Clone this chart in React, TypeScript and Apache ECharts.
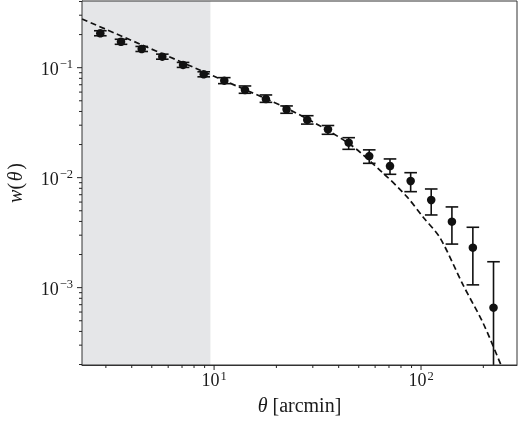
import React, { useEffect, useRef } from "react";
import * as echarts from "echarts";

// Measured angular bins (arcmin) and correlation values
const thetaArcmin = [2.82, 3.55, 4.47, 5.62, 7.08, 8.91, 11.2, 14.1, 17.8, 22.4, 28.2, 35.5, 44.7, 56.2, 70.8, 89.1, 112, 141, 178, 224];
const wTheta = [0.2056, 0.172, 0.148, 0.126, 0.106, 0.0871, 0.0762, 0.0627, 0.0519, 0.0418, 0.0335, 0.0275, 0.0208, 0.0157, 0.01276, 0.00933, 0.00627, 0.00398, 0.00231, 0.000658];
const wUpper = [0.2167, 0.1813, 0.156, 0.1328, 0.1117, 0.0918, 0.0812, 0.0682, 0.0565, 0.0449, 0.0366, 0.0298, 0.0231, 0.0179, 0.0148, 0.0111, 0.00789, 0.00542, 0.00354, 0.00172];
const wLower = [0.1951, 0.1632, 0.1404, 0.1195, 0.1006, 0.0826, 0.0716, 0.0585, 0.0484, 0.0385, 0.0307, 0.0248, 0.0181, 0.0135, 0.01073, 0.00746, 0.00458, 0.00249, 0.00106, 0.00001];

// Model curve (dashed)
const modelTheta = [2.3, 10.45, 23.28, 44.4, 65.5, 85.6, 102.2, 123.6, 159.6, 199.3, 243.5, 257.4];
const modelW = [0.2772, 0.0806, 0.04125, 0.02068, 0.01103, 0.00668, 0.00439, 0.00283, 0.001058, 0.000478, 0.000198, 0.000154];

// Axis ranges and ticks
const xRange = [2.3, 290.9];
const yRange = [0.000198, 0.404];
const shadeEnd = 9.6;
const xMajorTicks = [10, 100];
const xMinorTicks = [3, 4, 5, 6, 7, 8, 9, 20, 30, 40, 50, 60, 70, 80, 90, 200];
const yMajorTicks = [0.001, 0.01, 0.1];
const yMinorTicks = [0.0002, 0.0003, 0.0004, 0.0005, 0.0006, 0.0007, 0.0008, 0.0009, 0.002, 0.003, 0.004, 0.005, 0.006, 0.007, 0.008, 0.009, 0.02, 0.03, 0.04, 0.05, 0.06, 0.07, 0.08, 0.09, 0.2, 0.3, 0.4];

const FONT = "Liberation Serif";
const INK = "#1a1a1a";

function powLabel(v: number): string {
  const l = Math.log10(v);
  const e = Math.round(l);
  if (Math.abs(l - e) > 1e-6) return "";
  return `{b|10}{s|${e < 0 ? "\u2212" : ""}${Math.abs(e)}}`;
}

const labelRich = {
  b: { fontFamily: FONT, fontSize: 18, color: INK, lineHeight: 20, verticalAlign: "bottom" },
  s: { fontFamily: FONT, fontSize: 12.5, color: INK, lineHeight: 14, verticalAlign: "top", padding: [0, 0, 0, 1] },
};

export default function App() {
  const ref = useRef<HTMLDivElement>(null);
  useEffect(() => {
    document.body.style.margin = "0";
    if (!ref.current) return;
    const chart = echarts.init(ref.current, undefined, { renderer: "svg" });

    const points = thetaArcmin.map((x, i) => [x, wTheta[i]]);
    const errs = thetaArcmin.map((x, i) => [x, wLower[i], wUpper[i]]);
    const model = modelTheta.map((x, i) => [x, modelW[i]]);
    const xTickData = [
      ...xMajorTicks.map((v) => [v, yRange[0], 1]),
      ...xMinorTicks.map((v) => [v, yRange[0], 0]),
    ];
    const yTickData = [
      ...yMajorTicks.map((v) => [xRange[0], v, 1]),
      ...yMinorTicks.map((v) => [xRange[0], v, 0]),
    ];

    chart.setOption({
      animation: false,
      grid: {
        left: 82,
        right: 5,
        top: 1,
        bottom: 57,
        show: true,
        borderColor: "#333",
        borderWidth: 1,
        backgroundColor: "transparent",
        z: 10,
        containLabel: false,
        outerBoundsMode: "none",
      },
      xAxis: {
        type: "log",
        min: xRange[0],
        max: xRange[1],
        name: "{i|\u03b8} [arcmin]",
        nameLocation: "middle",
        nameGap: 30,
        nameTextStyle: {
          fontFamily: FONT,
          fontSize: 20,
          color: INK,
          rich: { i: { fontFamily: FONT, fontSize: 20, fontStyle: "italic", color: INK } },
        },
        axisLine: { show: true, lineStyle: { color: "#333", width: 1 } },
        axisTick: { show: false },
        splitLine: { show: false },
        minorTick: { show: false },
        axisLabel: {
          margin: 4,
          fontFamily: FONT,
          fontSize: 18,
          color: INK,
          formatter: powLabel,
          showMinLabel: false,
          showMaxLabel: false,
          rich: labelRich,
        },
      },
      yAxis: {
        type: "log",
        min: yRange[0],
        max: yRange[1],
        name: "{i|w}(\u200a{i|\u03b8}\u200a)",
        nameLocation: "middle",
        nameGap: 57,
        nameRotate: 90,
        nameTextStyle: {
          fontFamily: FONT,
          fontSize: 20,
          color: INK,
          rich: { i: { fontFamily: FONT, fontSize: 20, fontStyle: "italic", color: INK } },
        },
        axisLine: { show: true, lineStyle: { color: "#333", width: 1 } },
        axisTick: { show: false },
        splitLine: { show: false },
        minorTick: { show: false },
        axisLabel: {
          margin: 9,
          fontFamily: FONT,
          fontSize: 18,
          color: INK,
          formatter: powLabel,
          showMinLabel: false,
          showMaxLabel: false,
          rich: labelRich,
        },
      },
      series: [
        {
          type: "line",
          data: model,
          symbol: "none",
          smooth: 0.3,
          z: 3,
          lineStyle: { color: "#111", width: 1.7, type: [6, 3.5] },
          markArea: {
            silent: true,
            itemStyle: { color: "#e5e6e8" },
            data: [[{ xAxis: xRange[0] }, { xAxis: shadeEnd }]],
          },
        },
        {
          type: "custom",
          data: errs,
          clip: true,
          z: 4,
          renderItem: (params: any, api: any) => {
            const x = api.value(0);
            const top = api.coord([x, api.value(2)]);
            const bot = api.coord([x, api.value(1)]);
            const hw = 6.3;
            const style = { stroke: "#111", lineWidth: 1.6 };
            return {
              type: "group",
              children: [
                { type: "line", shape: { x1: top[0], y1: top[1], x2: bot[0], y2: bot[1] }, style },
                { type: "line", shape: { x1: top[0] - hw, y1: top[1], x2: top[0] + hw, y2: top[1] }, style },
                { type: "line", shape: { x1: bot[0] - hw, y1: bot[1], x2: bot[0] + hw, y2: bot[1] }, style },
              ],
            };
          },
        },
        {
          type: "scatter",
          data: points,
          symbol: "circle",
          symbolSize: 8.5,
          z: 5,
          itemStyle: { color: "#111", opacity: 1 },
        },
        {
          type: "custom",
          data: xTickData,
          z: 11,
          silent: true,
          renderItem: (params: any, api: any) => {
            const p = api.coord([api.value(0), api.value(1)]);
            const len = api.value(2) ? 5 : 3;
            return {
              type: "line",
              shape: { x1: p[0], y1: p[1], x2: p[0], y2: p[1] + len },
              style: { stroke: "#222", lineWidth: 1 },
            };
          },
        },
        {
          type: "custom",
          data: yTickData,
          z: 11,
          silent: true,
          renderItem: (params: any, api: any) => {
            const p = api.coord([api.value(0), api.value(1)]);
            const len = api.value(2) ? 5 : 3;
            return {
              type: "line",
              shape: { x1: p[0] - len, y1: p[1], x2: p[0], y2: p[1] },
              style: { stroke: "#222", lineWidth: 1 },
            };
          },
        },
      ],
    });
    return () => chart.dispose();
  }, []);
  return <div ref={ref} style={{ position: "fixed", left: 0, top: 0, width: 522, height: 422 }} />;
}
